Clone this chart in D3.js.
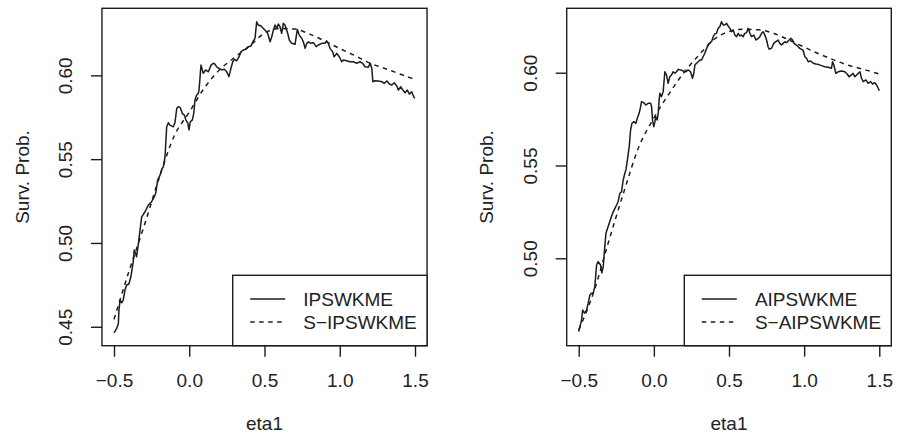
<!DOCTYPE html>
<html>
<head>
<meta charset="utf-8">
<script src="https://cdn.jsdelivr.net/npm/d3@7"></script>
<style>
  html, body { margin: 0; padding: 0; background: #fff; }
  svg { display: block; }
  text { font-family: "Liberation Sans", Arial, Helvetica, sans-serif; fill: #222; }
</style>
</head>
<body>
<svg id="chart" width="897" height="445"></svg>
<script>
// ---------------- data ----------------
const xTicks = [-0.5, 0, 0.5, 1, 1.5];
const xTickLabels = ["\u22120.5", "0.0", "0.5", "1.0", "1.5"];
const yTicksLeft = [0.45, 0.50, 0.55, 0.60];
const yTicksRight = [0.50, 0.55, 0.60];
const xTitle = "eta1";
const yTitle = "Surv. Prob.";
const legendLeft = ["IPSWKME", "S\u2212IPSWKME"];
const legendRight = ["AIPSWKME", "S\u2212AIPSWKME"];

// smooth (dashed) curves on a regular eta1 grid
const etaGrid = [-0.5,-0.4,-0.3,-0.2,-0.1,0.0,0.1,0.2,0.3,0.4,0.5,0.6,0.7,0.8,0.9,1.0,1.1,1.2,1.3,1.4,1.5];
const sIpswkme = [0.4544,0.4832,0.5101,0.5387,0.5638,0.5780,0.5924,0.6032,0.6106,0.6175,0.6252,0.6279,0.6276,0.6246,0.6205,0.6160,0.6118,0.6073,0.6041,0.6008,0.5975];
const sAipswkme = [0.4614,0.4818,0.5093,0.5357,0.5600,0.5756,0.5885,0.6001,0.6095,0.6179,0.6222,0.6234,0.6231,0.6211,0.6176,0.6138,0.6101,0.6068,0.6039,0.6017,0.5993];

// jagged (solid) estimators
const etaIpswkme = [-0.5,-0.482,-0.471,-0.467,-0.46,-0.449,-0.439,-0.427,-0.416,-0.401,
 -0.388,-0.372,-0.366,-0.357,-0.35,-0.339,-0.327,-0.316,-0.294,-0.272,
 -0.25,-0.232,-0.223,-0.21,-0.194,-0.183,-0.172,-0.161,-0.15,-0.139,
 -0.128,-0.106,-0.095,-0.083,-0.073,-0.061,-0.046,-0.033,-0.022,-0.01,
 -0.002,0.007,0.02,0.03,0.038,0.049,0.06,0.065,0.078,0.093,
 0.109,0.127,0.145,0.16,0.171,0.182,0.198,0.216,0.233,0.249,
 0.264,0.277,0.289,0.3,0.315,0.331,0.344,0.359,0.375,0.392,
 0.41,0.426,0.437,0.448,0.459,0.477,0.492,0.503,0.521,0.537,
 0.548,0.559,0.57,0.581,0.592,0.603,0.614,0.625,0.636,0.654,
 0.665,0.681,0.703,0.718,0.731,0.747,0.758,0.77,0.781,0.792,
 0.807,0.825,0.843,0.858,0.88,0.902,0.913,0.924,0.935,0.953,
 0.962,0.98,0.997,1.013,1.024,1.046,1.068,1.09,1.113,1.135,
 1.152,1.168,1.19,1.202,1.213,1.22,1.235,1.257,1.28,1.295,
 1.313,1.33,1.346,1.362,1.379,1.39,1.405,1.419,1.434,1.449,
 1.463,1.478,1.493,1.5];
const ipswkme = [0.4464,0.449,0.452,0.46,0.4659,0.4643,0.4659,0.4719,0.4749,0.4755,
 0.4798,0.4888,0.4958,0.4938,0.4918,0.4987,0.5077,0.5156,0.5186,0.5226,
 0.5246,0.5276,0.5296,0.5375,0.5405,0.5439,0.5455,0.5514,0.5693,0.5717,
 0.5703,0.5693,0.5717,0.5803,0.5813,0.5809,0.5773,0.5763,0.5733,0.5717,
 0.5674,0.5723,0.5733,0.5773,0.5853,0.5882,0.5893,0.5912,0.6061,0.6012,
 0.6032,0.6021,0.6061,0.6072,0.6067,0.6051,0.6042,0.6032,0.6036,0.6021,
 0.5992,0.6042,0.6081,0.6095,0.6087,0.6111,0.6141,0.6151,0.6155,0.6171,
 0.6175,0.6206,0.6221,0.632,0.63,0.6294,0.628,0.627,0.6251,0.62,
 0.623,0.627,0.63,0.628,0.6306,0.629,0.6251,0.631,0.63,0.6251,
 0.6211,0.6191,0.6185,0.6274,0.624,0.6221,0.62,0.6161,0.6191,0.62,
 0.6191,0.6195,0.6171,0.6181,0.6191,0.6191,0.6206,0.6191,0.6161,0.6141,
 0.6111,0.6131,0.6111,0.6081,0.6091,0.6087,0.6081,0.6081,0.6072,0.6081,
 0.6072,0.6051,0.6048,0.6072,0.6042,0.5962,0.5968,0.5966,0.5962,0.5952,
 0.5966,0.5948,0.5942,0.5956,0.5936,0.5912,0.5932,0.5912,0.5896,0.5912,
 0.5888,0.5902,0.5869,0.5863];

const etaAipswkme = [-0.5,-0.481,-0.474,-0.461,-0.448,-0.437,-0.426,-0.415,-0.404,-0.393,
 -0.381,-0.371,-0.355,-0.346,-0.337,-0.331,-0.319,-0.308,-0.297,-0.286,
 -0.275,-0.259,-0.248,-0.238,-0.226,-0.215,-0.204,-0.193,-0.186,-0.178,
 -0.164,-0.155,-0.146,-0.133,-0.12,-0.108,-0.098,-0.088,-0.082,-0.067,
 -0.053,-0.038,-0.022,-0.015,-0.009,0,0.007,0.013,0.022,0.029,
 0.035,0.04,0.051,0.062,0.073,0.084,0.095,0.106,0.118,0.128,
 0.14,0.151,0.162,0.178,0.195,0.213,0.228,0.244,0.257,0.266,
 0.273,0.284,0.295,0.306,0.317,0.328,0.339,0.351,0.368,0.384,
 0.395,0.406,0.417,0.428,0.439,0.45,0.461,0.472,0.484,0.494,
 0.506,0.517,0.528,0.539,0.55,0.561,0.572,0.583,0.594,0.605,
 0.617,0.627,0.639,0.65,0.665,0.679,0.694,0.705,0.717,0.727,
 0.739,0.75,0.76,0.767,0.783,0.798,0.812,0.827,0.838,0.85,
 0.86,0.872,0.883,0.9,0.912,0.923,0.933,0.949,0.96,0.971,
 0.983,0.993,1.005,1.016,1.027,1.043,1.06,1.078,1.093,1.116,
 1.138,1.16,1.182,1.189,1.198,1.211,1.226,1.249,1.271,1.286,
 1.299,1.315,1.326,1.337,1.349,1.36,1.371,1.382,1.393,1.411,
 1.426,1.442,1.455,1.47,1.482,1.493,1.5];
const aipswkme = [0.4605,0.4668,0.4721,0.4704,0.4721,0.4758,0.4802,0.4811,0.4811,0.4847,
 0.4964,0.4982,0.4964,0.4922,0.4955,0.5018,0.5135,0.5162,0.5189,0.5216,
 0.5242,0.5269,0.5287,0.5305,0.535,0.5359,0.5422,0.5458,0.5476,0.552,
 0.5601,0.5691,0.5727,0.5736,0.5727,0.576,0.5781,0.5817,0.5844,0.5838,
 0.5826,0.5835,0.5835,0.5817,0.5745,0.5709,0.5736,0.5763,0.5745,0.5781,
 0.5853,0.5889,0.5871,0.5898,0.6005,0.5988,0.5943,0.5978,0.5988,0.6005,
 0.5997,0.6005,0.6018,0.6015,0.6009,0.6005,0.6015,0.6005,0.597,0.5997,
 0.6041,0.6051,0.6059,0.6068,0.6068,0.6086,0.6105,0.6131,0.6158,0.6167,
 0.6194,0.6209,0.6212,0.6239,0.6248,0.6275,0.6257,0.6257,0.6266,0.6252,
 0.6239,0.6221,0.623,0.6203,0.6194,0.6212,0.6198,0.6203,0.6194,0.6212,
 0.6216,0.6239,0.6212,0.6194,0.6203,0.6176,0.6185,0.6194,0.6212,0.6221,
 0.6203,0.6176,0.614,0.6127,0.6132,0.6158,0.6167,0.6176,0.6158,0.6149,
 0.6158,0.6167,0.6162,0.6176,0.6185,0.6176,0.6158,0.6149,0.614,0.6131,
 0.6126,0.6122,0.6086,0.6078,0.6059,0.6063,0.6051,0.6047,0.6045,0.6038,
 0.6032,0.6029,0.6024,0.6059,0.6041,0.5997,0.6005,0.6009,0.6005,0.5993,
 0.5978,0.5988,0.5997,0.5978,0.5988,0.5997,0.6005,0.597,0.5952,0.5961,
 0.5943,0.5952,0.5939,0.5946,0.5934,0.5916,0.5903];

// ---------------- drawing ----------------
const svg = d3.select("#chart");
const INK = "#1c1c1c";
const FONT = 19;

function panel(cfg) {
  const x = d3.scaleLinear().domain([-0.58, 1.58]).range([cfg.left, cfg.right]);
  const y = d3.scaleLinear().domain(cfg.yDomain).range([cfg.bottom, cfg.top]);
  const g = svg.append("g");

  // curves
  const solid = d3.zip(cfg.eta, cfg.vals);
  const smooth = d3.zip(etaGrid, cfg.smooth);
  const lineSolid = d3.line().x(d => x(d[0])).y(d => y(d[1]));
  const lineSmooth = d3.line().x(d => x(d[0])).y(d => y(d[1])).curve(d3.curveMonotoneX);

  g.append("path").attr("d", lineSmooth(smooth))
    .attr("fill", "none").attr("stroke", INK).attr("stroke-width", 1.5)
    .attr("stroke-dasharray", "4.5,4.5");
  g.append("path").attr("d", lineSolid(solid))
    .attr("fill", "none").attr("stroke", INK).attr("stroke-width", 1.5)
    .attr("stroke-linejoin", "round");

  // x axis
  const xAxis = d3.axisBottom(x).tickValues(xTicks)
    .tickFormat((d, i) => xTickLabels[i]).tickSize(11).tickSizeOuter(0);
  const gx = g.append("g").attr("transform", `translate(0,${cfg.bottom})`).call(xAxis);
  gx.select(".domain").remove();
  gx.selectAll(".tick line").attr("stroke", INK).attr("stroke-width", 1.4);
  gx.selectAll(".tick text").attr("font-size", FONT).attr("fill", "#222")
    .attr("font-family", "Liberation Sans, Arial, sans-serif")
    .attr("y", 0).attr("dy", null)
    .attr("transform", `translate(0,${380 - cfg.bottom})`)
    .attr("dominant-baseline", "central");

  // y axis
  const yAxis = d3.axisLeft(y).tickValues(cfg.yTicks)
    .tickFormat(d3.format(".2f")).tickSize(11).tickSizeOuter(0);
  const gy = g.append("g").attr("transform", `translate(${cfg.left},0)`).call(yAxis);
  gy.select(".domain").remove();
  gy.selectAll(".tick line").attr("stroke", INK).attr("stroke-width", 1.4);
  gy.selectAll(".tick text").attr("font-size", FONT).attr("fill", "#222")
    .attr("font-family", "Liberation Sans, Arial, sans-serif")
    .attr("x", 0).attr("dy", "0.35em")
    .attr("text-anchor", "middle")
    .attr("transform", `translate(${cfg.tickLabelX - cfg.left},0) rotate(-90)`);

  // box
  g.append("rect")
    .attr("x", cfg.left).attr("y", cfg.top)
    .attr("width", cfg.right - cfg.left).attr("height", cfg.bottom - cfg.top)
    .attr("fill", "none").attr("stroke", INK).attr("stroke-width", 1.4);

  // titles
  g.append("text").attr("x", (cfg.left + cfg.right) / 2).attr("y", 423)
    .attr("text-anchor", "middle").attr("dominant-baseline", "central")
    .attr("font-size", FONT).text(xTitle);
  g.append("text")
    .attr("transform", `translate(${cfg.yTitleX},${(cfg.top + cfg.bottom) / 2}) rotate(-90)`)
    .attr("text-anchor", "middle").attr("dy", "0.35em")
    .attr("font-size", FONT).text(yTitle);

  // legend
  const lg = g.append("g");
  lg.append("rect").attr("x", cfg.legX).attr("y", 275.3)
    .attr("width", cfg.right - cfg.legX).attr("height", cfg.bottom - 275.3)
    .attr("fill", "#fff").attr("stroke", INK).attr("stroke-width", 1.4);
  const rows = [299, 322];
  cfg.legend.forEach((lab, i) => {
    lg.append("line").attr("x1", cfg.legX + 17.5).attr("x2", cfg.legX + 52.5)
      .attr("y1", rows[i]).attr("y2", rows[i])
      .attr("stroke", INK).attr("stroke-width", 1.5)
      .attr("stroke-dasharray", i === 1 ? "4.5,4.5" : null);
    lg.append("text").attr("x", cfg.legX + 70.6).attr("y", rows[i])
      .attr("dominant-baseline", "central").attr("font-size", FONT).text(lab);
  });
}

panel({
  left: 101.96, right: 427.04, top: 8.3, bottom: 345.7,
  yDomain: [0.4387, 0.6400], yTicks: yTicksLeft,
  eta: etaIpswkme, vals: ipswkme, smooth: sIpswkme,
  tickLabelX: 65.5, yTitleX: 22, legX: 232.7, legend: legendLeft
});
panel({
  left: 566.7, right: 891.3, top: 8.3, bottom: 345.7,
  yDomain: [0.4529, 0.6347], yTicks: yTicksRight,
  eta: etaAipswkme, vals: aipswkme, smooth: sAipswkme,
  tickLabelX: 530.7, yTitleX: 486, legX: 684.3, legend: legendRight
});
</script>
</body>
</html>
